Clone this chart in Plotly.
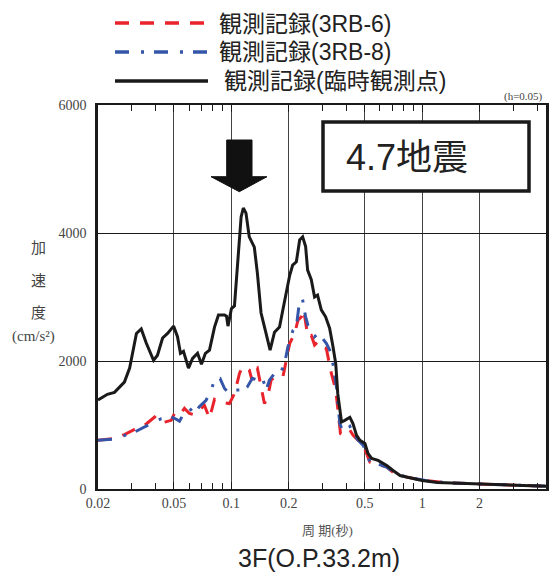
import math
import plotly.graph_objects as go

# ---- data (period [s], acceleration [cm/s^2]) ----
black_period = [0.0200, 0.0224, 0.0244, 0.0275, 0.0293, 0.0303, 0.0318, 0.0337, 0.0358, 0.0391,
                0.0410, 0.0436, 0.0463, 0.0498, 0.0522, 0.0541, 0.0561, 0.0596, 0.0626, 0.0665,
                0.0697, 0.0731, 0.0768, 0.0816, 0.0856, 0.0921, 0.0943, 0.0960, 0.1001, 0.1038,
                0.1075, 0.1125, 0.1155, 0.1193, 0.1241, 0.1319, 0.1368, 0.1431, 0.1520, 0.1596,
                0.1683, 0.1788, 0.1862, 0.1940, 0.2022, 0.2096, 0.2191, 0.2280, 0.2364, 0.2450,
                0.2510, 0.2624, 0.2730, 0.2830, 0.2960, 0.3118, 0.3275, 0.3397, 0.3524, 0.3611,
                0.3700, 0.3778, 0.3932, 0.4179, 0.4332, 0.4532, 0.4718, 0.5013, 0.5199, 0.5437,
                0.5873, 0.6520, 0.7037, 0.7660, 0.8969, 1.00, 1.20, 1.32, 1.99, 2.97, 5.0]
black_accel = [1390, 1480, 1510, 1670, 1890, 2120, 2430, 2500, 2280, 2010,
               2090, 2360, 2430, 2545, 2380, 2120, 2150, 1890, 2040, 2120,
               1950, 2120, 2170, 2530, 2720, 2720, 2700, 2545, 2820, 2860,
               3470, 4250, 4390, 4310, 3940, 3780, 3380, 2750, 2430, 2170,
               2450, 2530, 2800, 3060, 3340, 3500, 3550, 3890, 3940, 3790,
               3420, 3270, 3000, 3030, 2800, 2690, 2510, 2250, 1960, 1490,
               1230, 1047, 1073, 1120, 1026, 838, 760, 713, 556, 478,
               447, 368, 290, 211, 164, 133, 100, 95, 81, 55, 39]

red_period = [0.0200, 0.0244, 0.0275, 0.0311, 0.0351, 0.0396, 0.0429, 0.0484, 0.0503, 0.0535,
              0.0568, 0.0603, 0.0639, 0.0681, 0.0722, 0.0768, 0.0816, 0.0876, 0.0977, 0.1038,
              0.1103, 0.1143, 0.1193, 0.1241, 0.1283, 0.1319, 0.1368, 0.1431, 0.1490, 0.1550,
              0.1615, 0.1683, 0.1862, 0.1940, 0.2022, 0.2147, 0.2234, 0.2327, 0.2393, 0.2471,
              0.2519, 0.2624, 0.2730, 0.2840, 0.2960, 0.3145, 0.3343, 0.3524, 0.3625, 0.3732,
              0.3854, 0.4014, 0.4179, 0.4348, 0.4621, 0.4911, 0.5117, 0.5326, 0.5780, 0.6520,
              0.7208, 0.8310, 1.04, 1.32, 2.0, 3.0, 5.0]
red_accel = [760, 790, 850, 930, 995, 1125, 1030, 1073, 1180, 1150,
             1260, 1180, 1160, 1230, 1310, 1105, 1400, 1360, 1335, 1490,
             1805, 1910, 1890, 1860, 1700, 1860, 1890, 1595, 1335, 1440,
             1700, 1750, 1750, 2010, 2275, 2430, 2640, 2690, 2795, 2535,
             2380, 2400, 2250, 2300, 2220, 2195, 1805, 1550, 1230, 865,
             838, 890, 920, 838, 760, 681, 551, 420, 395, 342,
             238, 185, 133, 100, 78, 55, 40]

blue_period = [0.0200, 0.0244, 0.0311, 0.0351, 0.0396, 0.0429, 0.0484, 0.0503, 0.0535, 0.0568,
               0.0603, 0.0639, 0.0681, 0.0737, 0.0783, 0.0816, 0.0873, 0.0921, 0.0977, 0.1038,
               0.1103, 0.1143, 0.1212, 0.1288, 0.1368, 0.1453, 0.1520, 0.1583, 0.1683, 0.1788,
               0.1900, 0.1979, 0.2104, 0.2191, 0.2280, 0.2355, 0.2450, 0.2519, 0.2624, 0.2730,
               0.2840, 0.2960, 0.3145, 0.3343, 0.3554, 0.3700, 0.3854, 0.4014, 0.4179, 0.4348,
               0.4621, 0.4911, 0.5117, 0.5326, 0.5780, 0.6520, 0.7208, 0.8310, 1.04, 1.32,
               2.0, 3.0, 5.0]
blue_accel = [760, 780, 890, 970, 1047, 1100, 1125, 1105, 1060, 1200,
              1260, 1180, 1290, 1387, 1545, 1700, 1725, 1570, 1490, 1545,
              1545, 1516, 1595, 1730, 1700, 1750, 1545, 1700, 1805, 1780,
              1960, 2220, 2480, 2535, 2950, 2980, 2690, 2560, 2510, 2380,
              2430, 2380, 2275, 2120, 1595, 1025, 890, 943, 979, 865,
              760, 681, 551, 420, 395, 342, 238, 185, 133, 100,
              78, 55, 40]

x_major = [0.02, 0.05, 0.1, 0.2, 0.5, 1, 2, 5]
x_major_text = ["0.02", "0.05", "0.1", "0.2", "0.5", "1", "2", "5"]
x_minor = [0.03, 0.04, 0.06, 0.07, 0.08, 0.09, 0.3, 0.4, 0.6, 0.7, 0.8, 0.9, 3, 4]
y_ticks = [0, 2000, 4000, 6000]

legend_names = ["観測記録(3RB-6)", "観測記録(3RB-8)", "観測記録(臨時観測点)"]

# ---- styles ----
RED = "#e8232b"
BLUE = "#3556a8"
BLACK = "#1a1a1a"
RED_DASH = "14px,11px"
BLUE_DASH = "14px,12px,3px,10px"
SERIF = "Liberation Serif, Noto Sans CJK JP, serif"
SANS = "Liberation Sans, Noto Sans CJK JP, sans-serif"

OFF = 8  # page body margin offset
W, H = 557 - OFF, 580 - 2 * OFF
# plot area in page pixels: x 98..546 (inside visible viewport), y 105..489
L, R, T, B = 98 - OFF, 557 - 546, 105 - OFF, (OFF + H) - 489
PW, PH = W - L - R, H - T - B
PX_PER_DECADE = 190.8
X_LO = math.log10(0.02)
X_HI = X_LO + PW / PX_PER_DECADE


def px(x):
    return (x - OFF - L) / PW


def py(y):
    return (H - B - (y - OFF)) / PH


fig = go.Figure()
fig.add_trace(go.Scatter(x=red_period, y=red_accel, mode="lines",
                         line=dict(color=RED, width=3, dash=RED_DASH), name=legend_names[0]))
fig.add_trace(go.Scatter(x=blue_period, y=blue_accel, mode="lines",
                         line=dict(color=BLUE, width=3, dash=BLUE_DASH), name=legend_names[1]))
fig.add_trace(go.Scatter(x=black_period, y=black_accel, mode="lines",
                         line=dict(color=BLACK, width=3), name=legend_names[2]))

shapes = []
# legend samples
for yy, col, dash in [(23, RED, RED_DASH), (52, BLUE, BLUE_DASH), (81, BLACK, "solid")]:
    shapes.append(dict(type="line", xref="paper", yref="paper",
                       x0=px(115), x1=px(208), y0=py(yy), y1=py(yy),
                       line=dict(color=col, width=3.5, dash=dash)))
# "4.7地震" box
shapes.append(dict(type="rect", xref="paper", yref="paper", layer="above",
                   x0=px(323), x1=px(529), y0=py(122), y1=py(191),
                   fillcolor="white", line=dict(color=BLACK, width=3.5)))
# down arrow
pts = [(226.7, 140), (252, 140), (252, 176.7), (267, 176.7), (239.3, 191.7), (211, 176.7), (226.7, 176.7)]
path = "M " + " L ".join(f"{px(a):.5f},{py(b):.5f}" for a, b in pts) + " Z"
shapes.append(dict(type="path", xref="paper", yref="paper", layer="above", path=path,
                   fillcolor="#111111", line=dict(color="#111111", width=1)))

annotations = []
for name, yy, xx in zip(legend_names, [24, 52, 81], [217, 217, 222]):
    annotations.append(dict(text=name, xref="paper", yref="paper", x=px(xx), y=py(yy),
                            xanchor="left", yanchor="middle", showarrow=False,
                            font=dict(family=SANS, size=23, color="#222222")))
annotations.append(dict(text="4.7地震", xref="paper", yref="paper", x=px(407), y=py(157),
                        xanchor="center", yanchor="middle", showarrow=False,
                        font=dict(family=SANS, size=36, color="#222222")))
annotations.append(dict(text="(h=0.05)", xref="paper", yref="paper", x=px(545), y=py(96),
                        xanchor="right", yanchor="middle", showarrow=False,
                        font=dict(family=SERIF, size=11, color="#444444")))
for ch, yy, xx in [("加", 248, 38), ("速", 281, 38), ("度", 313, 38), ("(cm/s²)", 336, 33)]:
    annotations.append(dict(text=ch, xref="paper", yref="paper", x=px(xx), y=py(yy),
                            xanchor="center", yanchor="middle", showarrow=False,
                            font=dict(family=SERIF, size=15, color="#444444")))
# x-axis title
annotations.append(dict(text="周 期(秒)", xref="paper", yref="paper", x=px(327), y=py(530),
                        xanchor="center", yanchor="middle", showarrow=False,
                        font=dict(family=SERIF, size=13, color="#555555")))
annotations.append(dict(text="3F(O.P.33.2m)", xref="paper", yref="paper", x=px(319), y=py(558),
                        xanchor="center", yanchor="middle", showarrow=False,
                        font=dict(family=SANS, size=25, color="#222222")))

fig.update_layout(
    width=W, height=H,
    margin=dict(l=L, r=R, t=T, b=B, autoexpand=False),
    paper_bgcolor="white", plot_bgcolor="white",
    showlegend=False,
    shapes=shapes, annotations=annotations,
    xaxis=dict(type="log", range=[X_LO, X_HI],
               tickvals=x_major, ticktext=x_major_text,
               ticks="inside", ticklen=7, tickwidth=1, tickcolor=BLACK,
               showgrid=True, gridcolor="#444444", gridwidth=1,
               showline=True, linecolor=BLACK, linewidth=2, mirror="ticks",
               tickfont=dict(family=SERIF, size=14, color="#444444"),
               minor=dict(tickvals=x_minor, ticks="inside", ticklen=6, tickwidth=1,
                          tickcolor=BLACK, showgrid=False),
               zeroline=False),
    yaxis=dict(range=[0, 6000], tickvals=y_ticks, ticktext=[str(v) for v in y_ticks],
               ticks="", showgrid=True, gridcolor=BLACK, gridwidth=1,
               showline=True, linecolor=BLACK, linewidth=2.5, mirror=True,
               tickfont=dict(family=SERIF, size=14, color="#444444"),
               ticklabelstandoff=6, zeroline=False),
)

fig.write_html("out.html")
